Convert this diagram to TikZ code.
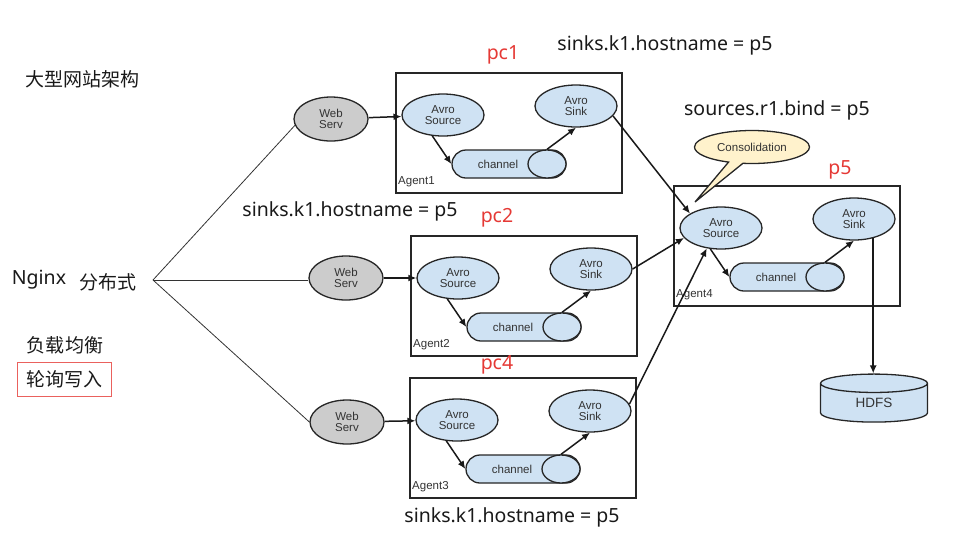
\documentclass[tikz,border=0pt]{standalone}
\usepackage{fontspec}
\setmainfont{Liberation Sans}
\newfontfamily\cjk{Noto Sans CJK SC}
\newfontfamily\labelfont{Noto Sans}
\usetikzlibrary{shapes.geometric, shapes.misc, shapes.callouts, arrows.meta}

\definecolor{avroblue}{HTML}{CFE2F3}
\definecolor{servgray}{HTML}{CCCCCC}
\definecolor{notecream}{HTML}{FFF2CC}
\definecolor{pcred}{HTML}{E53935}
\definecolor{inktext}{HTML}{333333}
\newcommand{\boxtext}{\fontsize{11.5}{11.5}\selectfont}
\newcommand{\bigtext}{\labelfont\fontsize{19.5}{22}\selectfont}
\newcommand{\hantext}{\cjk\fontsize{19}{22}\selectfont}

% one flume agent: name, top left corner, label
\newcommand{\flumeagent}[3]{%
  \node[agent] (#1) at (#2) {};
  \node[avro] (#1-src) at ([shift={(48,43)}]#1.north west) {Avro\\Source};
  \node[avro] (#1-sink) at ([shift={(181,34)}]#1.north west) {Avro\\Sink};
  \node[chan] (#1-ch) at ([shift={(114,92)}]#1.north west) {};
  \node[chanend, anchor=east] (#1-end) at (#1-ch.east) {};
  \node[font=\boxtext, text=inktext] (#1-chtext) at ([xshift=-11pt]#1-ch.center) {channel};
  \node[font=\boxtext, text=inktext, anchor=base west, inner sep=0pt] (#1-name)
       at ([shift={(3,-9)}]#1.south west) {#3};
  \draw[flow] (#1-src.243) -- (#1-ch.west);
  \draw[flow] (#1-end.north) -- (#1-sink.south);
}

\begin{document}
\begin{tikzpicture}[x=1pt, y=-1pt,
    agent/.style={draw=black!85, line width=1.6pt, anchor=north west,
                  minimum width=226pt, minimum height=120pt, inner sep=0pt},
    avro/.style={ellipse, draw=black!85, line width=1.3pt, fill=avroblue,
                 minimum width=82pt, minimum height=42pt, inner sep=0pt,
                 align=center, font=\boxtext, text=inktext},
    serv/.style={avro, fill=servgray, minimum width=74pt, minimum height=44pt},
    chan/.style={rounded rectangle, draw=black!85, line width=1.3pt, fill=avroblue,
                 minimum width=114pt, minimum height=28pt, inner sep=0pt},
    chanend/.style={ellipse, draw=black!85, line width=1.3pt, fill=avroblue,
                    minimum width=38pt, minimum height=28pt, inner sep=0pt},
    flow/.style={-{Latex[length=8pt,width=7pt]}, line width=1.5pt, draw=black!90},
    fan/.style={line width=0.8pt, draw=black!80},
    red label/.style={font=\bigtext, text=pcred},
    big label/.style={font=\bigtext, text=black!90}]
\useasboundingbox (0,0) rectangle (979,539);

\node[font=\hantext, text=black!90] (title) at (82,79) {大型网站架构};
\node[big label] (nginx) at (39,280) {Nginx};
\node[font=\hantext, text=black!90] (dist) at (108,282) {分布式};
\node[font=\hantext, text=black!90] (balance) at (65,345) {负载均衡};
\node[font=\hantext, text=black!90, draw=pcred!80, line width=0.8pt,
      minimum width=94pt, minimum height=34pt] (robin) at (64,379) {轮询写入};

\node[serv] (ws1) at (331,119) {Web\\Serv};
\node[serv] (ws2) at (346,278) {Web\\Serv};
\node[serv] (ws3) at (347,422) {Web\\Serv};

\coordinate (hub) at (153,280);
\draw[fan] (hub) -- (ws1.190);
\draw[fan] (hub) -- (hub -| ws2.west);
\draw[fan] (hub) -- (ws3.west);

\flumeagent{a1}{395,72}{Agent1}
\flumeagent{a2}{410,235}{Agent2}
\flumeagent{a3}{409,377}{Agent3}
\flumeagent{a4}{673,185}{Agent4}

\draw[flow] (ws1) -- (a1-src);
\draw[flow] (ws2) -- (a2-src);
\draw[flow] (ws3) -- (a3-src);

\draw[flow] (a1-sink.-15) -- (a4-src.155);
\draw[flow] (a2-sink.east) -- (a4-src.195);
\draw[flow] (a3-sink.10) -- (a4-src.235);

\node[red label] (pc1) at (503,55) {pc1};
\node[red label] (pc2) at (497,218) {pc2};
\node[red label] (pc4) at (497,365) {pc4};
\node[red label] (p5) at (840,170) {p5};

\node[big label] (hosttop) at (665,45) {sinks.k1.hostname = p5};
\node[big label] (hostmid) at (350,211) {sinks.k1.hostname = p5};
\node[big label] (hostbot) at (512,517) {sinks.k1.hostname = p5};
\node[big label] (bind) at (777,110) {sources.r1.bind = p5};

\coordinate (constip) at (695,202);
\node[ellipse callout, callout absolute pointer={(constip)}, draw=black!85,
      line width=1.3pt, fill=notecream, minimum width=115pt, minimum height=33pt,
      inner sep=0pt, font=\boxtext, text=inktext] (cons) at (752,147) {Consolidation};

\node[cylinder, shape border rotate=90, aspect=0.5, draw=black!85, line width=1.3pt,
      fill=avroblue, minimum width=107pt, minimum height=48pt, inner sep=0pt,
      font=\fontsize{13.5}{14}\selectfont, text=inktext] (hdfs) at (874,403) {HDFS};
\draw[flow] (a4-sink.315) -- (a4-sink.315 |- hdfs.north);
\end{tikzpicture}
\end{document}
